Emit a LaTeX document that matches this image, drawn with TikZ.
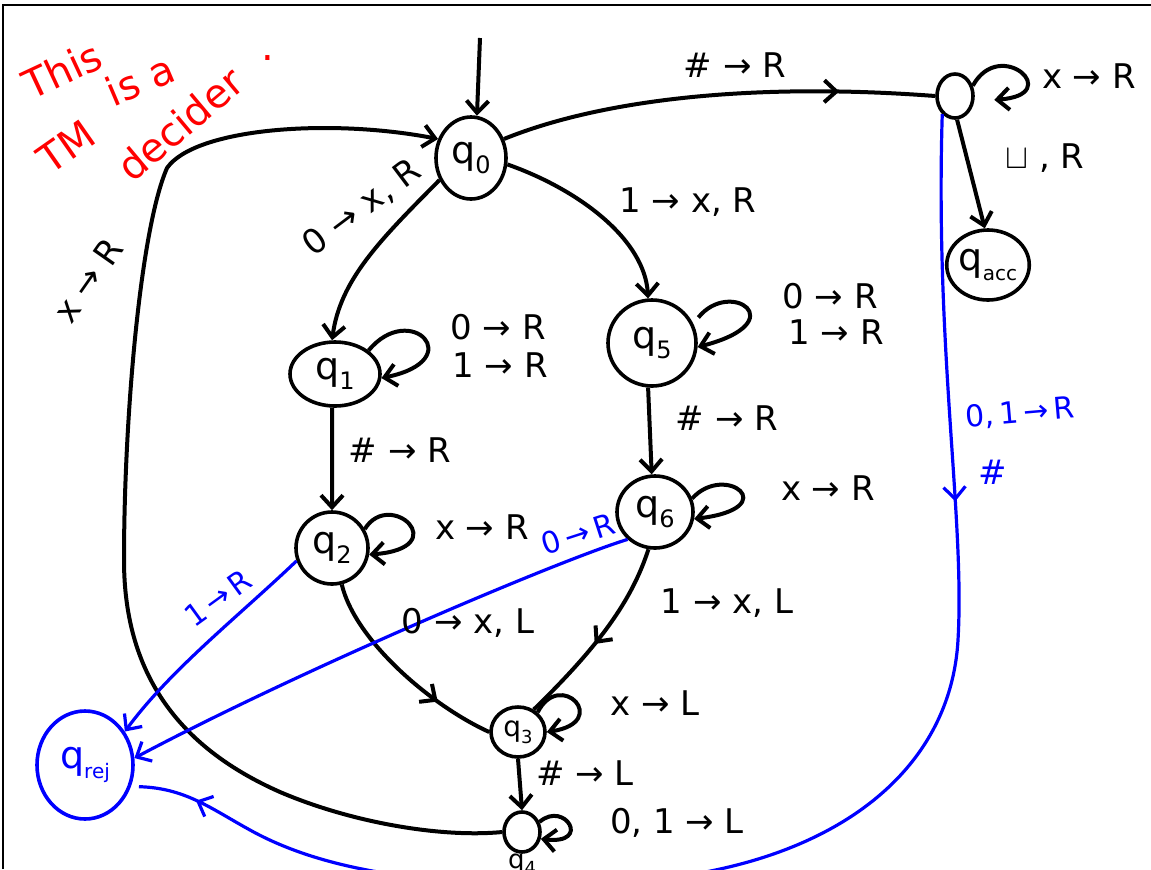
\documentclass[tikz,border=0pt]{standalone}
\usepackage{fontspec}
\setmainfont{DejaVu Sans}
\usetikzlibrary{arrows.meta,shapes.geometric,decorations.markings}
\definecolor{tmblue}{RGB}{0,0,255}
\definecolor{tmred}{RGB}{255,0,0}
\newcommand\stl[3][12]{q\raisebox{-0.45ex}{\fontsize{#1}{#1}\selectfont #2}#3}
\begin{document}
\begin{tikzpicture}[x=0.5pt,y=-0.5pt,
  >={Straight Barb[length=6pt,width=11pt]},
  state/.style={draw,ellipse,line width=1.8pt,inner sep=0pt,font=\fontsize{19}{20}\selectfont},
  edge/.style={line width=2pt},
  bedge/.style={line width=1.6pt,draw=tmblue},
  lab/.style={font=\fontsize{17}{20}\selectfont,inner sep=0pt},
  blab/.style={font=\fontsize{15}{18}\selectfont,inner sep=0pt,text=tmblue},
  rlab/.style={font=\fontsize{20}{22}\selectfont,text=tmred,inner sep=0pt},
  midarrow/.style={postaction={decorate},decoration={markings,mark=at position #1 with {\arrow{>}}}},
  twoarrows/.style={postaction={decorate},decoration={markings,mark=at position 0.26 with {\arrow{>}},mark=at position 0.955 with {\arrow{>}}}},
]
\useasboundingbox (0,0) rectangle (1151,869);
\clip (0,0) rectangle (1151,869);
\draw[line width=0.7pt] (3,869) -- (3,5) -- (1151,5);

% states
\node[state,minimum width=35pt,minimum height=41pt] (q0) at (471,158) {\stl{0}{}};
\node[state,minimum width=45pt,minimum height=32pt] (q1) at (335,374) {\stl{1}{}};
\node[state,minimum width=36pt,minimum height=36pt] (q2) at (332,548) {\stl{2}{}};
\node[state,minimum width=44pt,minimum height=43pt] (q5) at (652,343) {\stl{5}{}};
\node[state,minimum width=38pt,minimum height=36pt] (q6) at (655,512) {\stl{6}{}};
\node[state,minimum width=27pt,minimum height=25pt,font=\fontsize{14}{14}\selectfont] (q3) at (518,732) {\stl[9]{3}{}};
\node[state,minimum width=18pt,minimum height=20pt] (q4) at (522,832) {};
\node[lab,font=\fontsize{13}{13}\selectfont] (q4l) at (522,864) {\stl[9]{4}{}};
\node[state,minimum width=18pt,minimum height=22pt] (t) at (955,96) {};
\node[state,minimum width=41pt,minimum height=35pt] (qacc) at (988,265) {\stl[10]{acc}{}};
\node[state,draw=tmblue,text=tmblue,minimum width=48pt,minimum height=54pt] (qrej) at (85,765) {\stl[10]{rej}{}};

% start arrow
\coordinate (s0) at (480,38);
\draw[edge,->] (s0) -- (q0.82);

% black transitions
\draw[edge,->] (q0.215) .. controls (380,240) and (340,280) .. (q1.95);
\draw[edge,->] (q0.-10) .. controls (580,190) and (645,240) .. (q5.95);
\draw[edge,midarrow=0.78] (q0.30) .. controls (600,100) and (750,82) .. (t.west);
\draw[edge,->] (t.-85) -- (qacc.95);
\draw[edge,->,shorten >=10pt] (t.30) .. controls (1000,36) and (1066,95) .. (t.-15);
\draw[edge,->] (q1.35) .. controls (410,300) and (470,360) .. (q1.-5);
\draw[edge,->] (q2.30) .. controls (390,488) and (455,548) .. (q2.-10);
\draw[edge,->,shorten <=4pt] (q5.25) .. controls (730,278) and (795,322) .. (q5.-5);
\draw[edge,->] (q6.20) .. controls (725,462) and (785,508) .. (q6.-10);
\draw[edge,->] (q3.45) .. controls (560,668) and (612,722) .. (q3.0);
\draw[edge,->] (q4.30) .. controls (565,800) and (592,845) .. (q4.-20);
\draw[edge,->] (q1.-95) -- (q2.north);
\draw[edge,->] (q5.-95) -- (q6.95);
\draw[edge,->] (q3.south) -- (q4.north);
\draw[edge,midarrow=0.72] (q2.-75) .. controls (355,640) and (430,705) .. (q3.west);
\draw[edge,midarrow=0.55] (q6.-100) .. controls (632,600) and (600,645) .. (q3.55);
\draw[edge,->] (q4.west) .. controls (440,838) and (350,822) .. (280,792)
  .. controls (185,750) and (124,680) .. (124,560)
  .. controls (124,420) and (140,230) .. (167,168)
  .. controls (195,128) and (330,118) .. (q0.150);

% blue transitions
\draw[bedge,->] (q2.200) .. controls (240,615) and (170,670) .. (qrej.40);
\draw[bedge,->] (q6.225) .. controls (560,560) and (300,670) .. (qrej.8);
\draw[bedge,twoarrows,shorten >=4pt] (t.235) .. controls (935,350) and (965,520) .. (958,640)
  .. controls (950,780) and (820,872) .. (620,882)
  .. controls (470,888) and (340,880) .. (250,830)
  .. controls (210,808) and (185,788) .. (qrej.-25);

% labels
\node[lab] (l1) at (735,65) {\# → R};
\node[lab] (l2) at (688,202) {1 → x, R};
\node[lab,rotate=37] (l3) at (362,208) {0 → x, R};
\node[lab,rotate=55] (l4) at (88,280) {x → R};
\node[lab] (l5) at (1089,76) {x → R};
\node[lab] (l6) at (1045,158) {$\sqcup$ , R};
\node[lab] (l7) at (498,327) {0 → R};
\node[lab] (l8) at (500,365) {1 → R};
\node[lab] (l9) at (400,450) {\# → R};
\node[lab] (l10) at (482,527) {x → R};
\node[lab] (l11) at (830,296) {0 → R};
\node[lab] (l12) at (836,332) {1 → R};
\node[lab] (l13) at (727,418) {\# → R};
\node[lab] (l14) at (828,488) {x → R};
\node[lab] (l15) at (727,603) {1 → x, L};
\node[lab] (l16) at (468,623) {0 → x, L};
\node[lab] (l17) at (655,703) {x → L};
\node[lab] (l18) at (585,773) {\# → L};
\node[lab] (l19) at (677,823) {0, 1 → L};
\node[blab,rotate=36] (b1) at (218,598) {1\,→\,R};
\node[blab,rotate=18] (b2) at (578,534) {0\,→\,R};
\node[blab,rotate=5] (b3) at (1020,413) {0,\,1\,→\,R};
\node[blab,font=\fontsize{17}{20}\selectfont] (b4) at (993,472) {\#};

% red note
\node[rlab,rotate=25] (r1) at (62,70) {This};
\node[rlab,rotate=23] (r2) at (140,80) {is a};
\node[rlab,rotate=35] (r3) at (66,147) {TM};
\node[rlab,rotate=40] (r4) at (180,124) {decider};
\node[rlab] (r5) at (268,58) {.};
\end{tikzpicture}
\end{document}
